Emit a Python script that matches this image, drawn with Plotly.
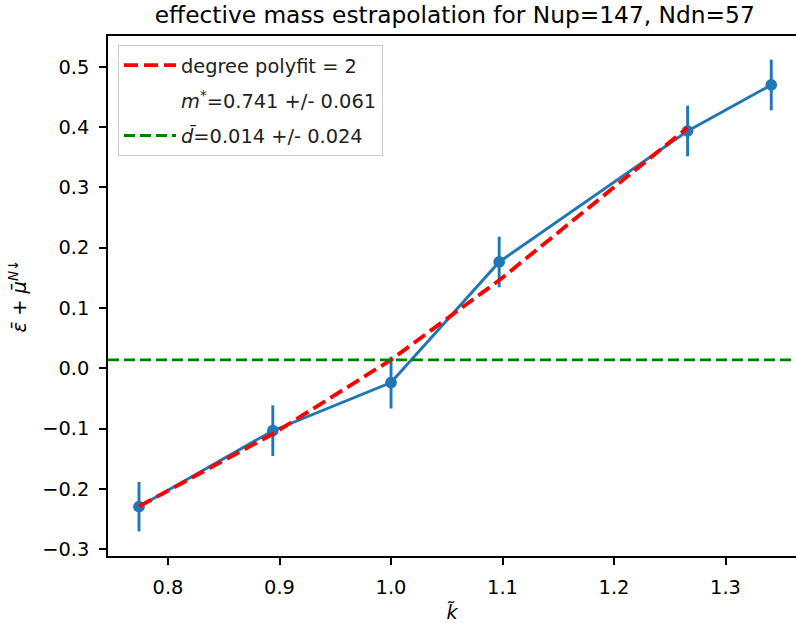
import plotly.graph_objects as go

# ---- data ----
k_tilde = [0.774, 0.894, 1.000, 1.097, 1.266, 1.341]
energy = [-0.2295, -0.1035, -0.0237, 0.1763, 0.3935, 0.4698]
energy_err = [0.041, 0.042, 0.043, 0.042, 0.042, 0.042]

fit_k = [0.774, 0.894, 1.000, 1.097, 1.266]
fit_y = [-0.229, -0.109, 0.014, 0.146, 0.399]

d_bar = 0.014

x_range = [0.7462, 1.3632]
y_range = [-0.3113, 0.551]
x_ticks = [0.8, 0.9, 1.0, 1.1, 1.2, 1.3]
y_ticks = [-0.3, -0.2, -0.1, 0.0, 0.1, 0.2, 0.3, 0.4, 0.5]

title_text = "effective mass estrapolation for Nup=147, Ndn=57"
fit_label = "degree polyfit = 2"
mstar_label = "<i>m</i><sup>*</sup>=0.741 +/- 0.061"
d_label = "<i>d̄</i>=0.014 +/- 0.024"

FONT = "DejaVu Sans"
BLUE = "#1f77b4"

fig = go.Figure()

fig.add_trace(go.Scatter(
    x=k_tilde, y=energy, mode="lines+markers",
    line=dict(color=BLUE, width=2.9),
    marker=dict(color=BLUE, size=11.7),
    error_y=dict(type="data", array=energy_err, visible=True,
                 color=BLUE, thickness=2.9, width=0),
    showlegend=False,
))

fig.add_trace(go.Scatter(
    x=fit_k, y=fit_y, mode="lines",
    line=dict(color="red", width=3.9, dash="14px,6px"),
    name=fit_label, legendgroup="a",
))

fig.add_trace(go.Scatter(
    x=[None], y=[None], mode="lines",
    line=dict(color="rgba(0,0,0,0)", width=2),
    name=mstar_label, legendgroup="b",
))

fig.add_trace(go.Scatter(
    x=[x_range[0], x_range[1]], y=[d_bar, d_bar], mode="lines",
    line=dict(color="green", width=2.9, dash="11px,5px"),
    name=d_label, legendgroup="c",
))

axis_common = dict(
    showline=True, linecolor="black", linewidth=1.5,
    ticks="outside", ticklen=7, tickwidth=1.5, tickcolor="black",
    showgrid=False, zeroline=False,
    tickfont=dict(family=FONT, size=19.4, color="black"),
    tickformat=".1f",
)

fig.update_xaxes(
    range=x_range, tickvals=x_ticks, mirror=True,
    title=dict(text="<i>k̃</i>", font=dict(family=FONT, size=19.4, color="black"), standoff=8),
    ticklabelstandoff=6,
    **axis_common,
)
fig.update_yaxes(
    range=y_range, tickvals=y_ticks, mirror=False,
    title=dict(text="<i>ε̄</i> + <i>μ̄</i><sup><i>N</i>↓</sup>",
               font=dict(family=FONT, size=19.4, color="black"), standoff=10),
    ticklabelstandoff=6,
    **axis_common,
)

fig.update_layout(
    width=796, height=624,
    margin=dict(l=108, r=0, t=36, b=68),
    paper_bgcolor="white", plot_bgcolor="white",
    font=dict(family=FONT, size=19.4, color="black"),
    title=dict(text=title_text, x=0.504, xref="paper", xanchor="center",
               y=1 - 15 / 624, yref="container", yanchor="middle",
               font=dict(family=FONT, size=23.3, color="black")),
    legend=dict(x=10 / 688, y=1 - 9 / 520, xanchor="left", yanchor="top",
                bgcolor="rgba(255,255,255,0.8)", bordercolor="#cccccc", borderwidth=1,
                font=dict(family=FONT, size=19.4, color="#222222"),
                tracegroupgap=7, itemwidth=52),
)

fig.write_html("out.html")
